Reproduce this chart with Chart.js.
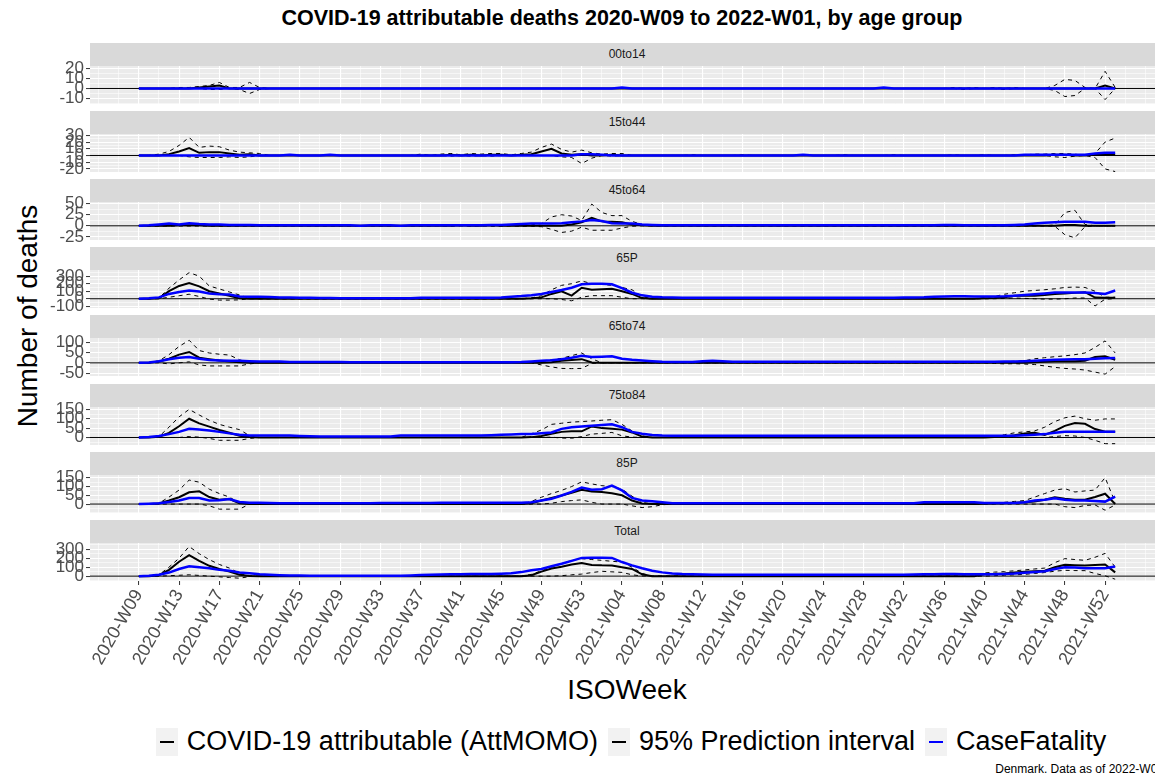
<!DOCTYPE html>
<html>
<head>
<meta charset="utf-8">
<title>COVID-19 attributable deaths by age group</title>
<script src="https://cdn.jsdelivr.net/npm/chart.js@4.4.1/dist/chart.umd.min.js"></script>
<style>
  html, body { margin: 0; padding: 0; background: #fff; }
  body { width: 1155px; height: 776px; overflow: hidden; position: relative;
         font-family: Arial, "Liberation Sans", Helvetica, sans-serif; }
  .abs { position: absolute; }
  #title { left: 90px; width: 1064px; top: 6px; text-align: center; font-size: 21.5px;
           font-weight: bold; color: #000; white-space: nowrap; }
  .strip { position: absolute; left: 90px; width: 1074px; background: #d9d9d9; color: #1a1a1a;
           font-size: 12px; text-align: center; }
  canvas.panel { position: absolute; left: 0; }
  #ylab { left: 28px; top: 316px; transform: translate(-50%, -50%) rotate(-90deg);
          font-size: 28px; white-space: nowrap; color: #000; }
  #xlab { left: 627px; top: 690px; transform: translate(-50%, -50%); font-size: 28px; color: #000; }
  #legend { left: 0; width: 1262px; top: 726px; display: flex; justify-content: center;
            align-items: center; font-size: 27px; white-space: nowrap; color: #000; }
  .item { display: flex; align-items: center; margin: 0 5px; }
  .key { width: 22px; height: 28px; background: #f2f2f2; position: relative; margin-right: 9px; }
  .key i { position: absolute; left: 4px; right: 4px; top: 13px; height: 2px; }
  #caption { right: -9px; top: 762px; font-size: 12px; color: #000; white-space: nowrap; }
</style>
</head>
<body>
<div id="title" class="abs">COVID-19 attributable deaths 2020-W09 to 2022-W01, by age group</div>
<div id="ylab" class="abs">Number of deaths</div>
<div id="xlab" class="abs">ISOWeek</div>
<div id="legend" class="abs">
  <span class="item"><span class="key"><i style="background:#000"></i></span>COVID-19 attributable (AttMOMO)</span>
  <span class="item"><span class="key"><i style="background:#000"></i></span>95% Prediction interval</span>
  <span class="item"><span class="key"><i style="background:#0000ff"></i></span>CaseFatality</span>
</div>
<div id="caption" class="abs">Denmark. Data as of 2022-W01</div>

<script>
// ---- Data ------------------------------------------------------------------
// ISO weeks 2020-W09 .. 2022-W01 (2020 has 53 weeks)
const weeks = [];
for (let w = 9; w <= 53; w++) weeks.push("2020-W" + String(w).padStart(2, "0"));
for (let w = 1; w <= 52; w++) weeks.push("2021-W" + String(w).padStart(2, "0"));
weeks.push("2022-W01");

const tickWeeks = [
  "2020-W09", "2020-W13", "2020-W17", "2020-W21", "2020-W25", "2020-W29", "2020-W33",
  "2020-W37", "2020-W41", "2020-W45", "2020-W49", "2020-W53", "2021-W04", "2021-W08",
  "2021-W12", "2021-W16", "2021-W20", "2021-W24", "2021-W28", "2021-W32", "2021-W36",
  "2021-W40", "2021-W44", "2021-W48", "2021-W52"
];

const groups = ["00to14", "15to44", "45to64", "65P", "65to74", "75to84", "85P", "Total"];

// y tick labels and panel ranges (free scales)
const yTicks = [
  [-10, 0, 10, 20],
  [-20, -10, 0, 10, 20, 30],
  [-25, 0, 25, 50],
  [-100, 0, 100, 200, 300],
  [-50, 0, 50, 100],
  [0, 50, 100, 150],
  [0, 50, 100, 150],
  [0, 100, 200, 300]
];
const yRange = [
  [-15.4, 22.3], [-24.6, 32], [-32, 53.7], [-123, 382],
  [-64, 121], [-40, 162.6], [-51, 166], [-54, 369]
];

// 00to14
const att00to14 = [
  0,0,0,0,0,0,1,2,3,0, 0,0,0,0,0,0,0,0,0,0, 0,0,0,0,0,0,0,0,0,0, 0,0,0,0,0,0,0,0,0,0,
  0,0,0,0,0,0,0,0,0,0, 0,0,0,0,0,0,0,0,0,0, 0,0,0,0,0,0,0,0,0,0, 0,0,0,0,0,0,0,0,0,0,
  0,0,0,0,0,0,0,0,0,0, 0,0,0,0,0,0,3,0];
const hi00to14 = [
  0,0,0,0,1,1,2,3,6,1, 1,6,1,0,0,0,0,0,0,0, 0,0,0,0,0,0,0,0,0,0, 0,0,0,0,0,0,0,0,0,0,
  0,0,0,0,0,0,0,0,0,0, 0,0,0,0,0,0,0,0,0,0, 0,0,0,0,0,0,0,0,0,0, 0,0,0,0,0,0,0,0,0,0,
  0,1,0,1,0,1,0,1,0,0, 0,3,9,8,1,0,17,1];
const lo00to14 = [
  0,0,0,0,0,0,0,-1,-1,0, -1,-5,-1,0,0,0,0,0,0,0, 0,0,0,0,0,0,0,0,0,0, 0,0,0,0,0,0,0,0,0,0,
  0,0,0,0,0,0,0,0,0,0, 0,0,0,0,0,0,0,0,0,0, 0,0,0,0,0,0,0,0,0,0, 0,0,0,0,0,0,0,0,0,0,
  0,0,-1,0,0,0,-1,0,0,0, 0,-2,-8,-7,0,0,-11,0];
const cf00to14 = [
  0,0,0,0,0,0,0,0,0,0, 0,0,0,0,0,0,0,0,0,0, 0,0,0,0,0,0,0,0,0,0, 0,0,0,0,0,0,0,0,0,0,
  0,0,0,0,0,0,0,0,1,0, 0,0,0,0,0,0,0,0,0,0, 0,0,0,0,0,0,0,0,0,0, 0,0,0,0,1,0,0,0,0,0,
  0,0,0,0,0,0,0,0,0,0, 0,0,0,0,0,0,0,0];

// 15to44
const att15to44 = [
  0,0,0,2,6,11,4,5,5,3, 1,2,0,0,0,0,0,0,0,0, 0,0,0,0,0,0,0,0,0,0, 0,1,0,1,0,1,1,0,1,2,
  6,10,3,1,2,0,0,1,0,0, 0,0,0,0,0,0,0,0,0,0, 0,0,0,0,0,0,0,0,0,0, 0,0,0,0,0,0,0,0,0,0,
  0,0,0,0,0,0,0,0,0,0, 0,1,1,0,0,1,1,1];
const hi15to44 = [
  0,0,2,6,15,27,12,14,13,8, 5,4,3,0,0,0,0,0,0,0, 0,0,0,0,0,0,0,0,2,0, 2,3,1,3,2,3,3,1,3,5,
  12,17,9,5,8,4,2,3,3,0, 0,0,0,0,0,1,0,0,0,0, 1,0,0,0,0,0,0,0,0,0, 1,0,0,0,0,1,0,0,0,0,
  0,1,0,0,1,0,0,1,1,2, 2,3,3,2,0,3,20,26];
const lo15to44 = [
  0,0,0,0,0,-2,-3,-3,-3,-2, -3,-2,0,0,0,0,0,0,0,0, 0,0,0,0,0,0,0,0,0,0, 0,-1,0,-1,0,-1,0,0,0,0,
  0,0,-2,-3,-12,-4,0,-1,0,0, 0,0,0,0,0,0,0,0,0,0, 0,0,0,0,0,0,0,0,0,0, 0,0,0,0,0,0,0,0,0,0,
  0,0,0,0,0,0,0,0,0,0, 0,-2,-3,-1,0,-3,-20,-24];
const cf15to44 = [
  0,0,0,0,0,0,0,0,0,0, 0,0,0,0,0,1,0,0,0,1, 0,0,0,0,0,0,0,0,0,0, 0,0,0,0,0,0,0,0,0,0,
  0,0,0,0,2,2,1,0,0,0, 0,0,0,0,0,0,0,0,0,0, 0,0,0,0,0,0,1,0,0,0, 0,0,0,0,0,0,0,0,0,0,
  0,0,0,0,0,0,0,0,1,1, 1,1,1,1,1,3,4,4];

// 45to64
const att45to64 = [
  0,0,0,0,1,1,1,0,0,0, 0,0,0,0,0,0,0,0,0,0, 0,0,0,0,0,0,0,0,0,0, 0,0,1,0,0,1,0,0,0,0,
  0,0,0,3,8,18,10,9,8,3, 1,0,0,0,0,0,0,0,0,0, 0,0,0,0,0,0,0,0,0,0, 0,0,0,0,0,0,0,0,0,0,
  0,0,0,0,0,0,0,0,0,0, 0,0,2,2,0,0,0,0];
const hi45to64 = [
  0,0,0,0,0,0,0,0,0,0, 0,0,0,0,0,0,0,0,0,0, 0,0,0,0,0,0,0,0,0,0, 1,2,1,2,1,2,2,1,2,2,
  5,20,25,22,12,49,30,23,23,10, 3,0,0,0,0,0,0,0,0,0, 0,0,0,0,0,0,0,0,0,0, 0,0,0,0,0,0,0,0,0,0,
  0,0,0,0,0,0,0,0,0,0, 0,2,30,35,3,0,0,0];
const lo45to64 = [
  0,0,0,0,0,0,0,0,0,0, 0,0,0,0,0,0,0,0,0,0, 0,0,0,0,0,0,0,0,0,0, 0,-1,0,-1,0,-1,-1,0,-1,-1,
  -2,-8,-15,-12,-3,-10,-10,-10,-5,-1, 0,0,0,0,0,0,0,0,0,0, 0,0,0,0,0,0,0,0,0,0, 0,0,0,0,0,0,0,0,0,0,
  0,0,0,0,0,0,0,0,0,0, 0,-1,-20,-27,-2,0,0,0];
const cf45to64 = [
  0,1,3,5,3,6,4,3,3,2, 2,2,1,1,1,1,1,1,1,1, 1,1,0,1,1,1,0,1,1,1, 1,1,1,1,1,2,2,3,4,5,
  5,5,6,8,10,13,11,6,5,5, 3,2,1,1,1,1,1,1,1,1, 1,1,1,1,1,1,1,1,1,1, 1,1,1,1,1,1,1,1,1,1,
  2,2,1,1,1,1,1,2,3,5, 7,8,9,9,9,7,7,8];

// 65P
const att65P = [
  0,0,5,100,170,210,165,100,70,40, 5,0,0,0,0,0,0,0,0,0, 0,0,0,0,0,0,0,0,0,0, 0,0,0,0,0,0,0,0,0,5,
  18,64,100,41,146,119,125,132,100,64, 9,0,0,0,0,0,0,0,0,0, 0,0,0,0,0,0,0,0,0,0, 0,0,0,0,0,0,0,0,0,0,
  0,0,0,0,5,10,20,41,41,41, 50,64,70,78,87,15,14,14];
const hi65P = [
  0,0,10,140,250,347,300,170,130,90, 50,5,0,0,0,0,0,0,0,0, 0,0,0,0,0,0,0,0,0,0, 0,0,0,0,0,0,0,0,0,10,
  40,119,178,200,237,200,190,178,150,119, 30,0,0,0,0,0,0,0,0,0, 0,0,0,0,0,0,0,0,0,0, 0,0,0,0,0,0,0,0,0,0,
  0,0,0,0,15,30,60,80,100,110, 120,132,150,155,150,100,20,20];
const lo65P = [
  0,0,0,20,40,60,30,-5,-18,-18, -15,0,0,0,0,0,0,0,0,0, 0,0,0,0,0,0,0,0,0,0, 0,0,0,0,0,0,0,0,0,0,
  0,0,-10,-27,20,41,41,41,20,0, 0,0,0,0,0,0,0,0,0,0, 0,0,0,0,0,0,0,0,0,0, 0,0,0,0,0,0,0,0,0,0,
  0,0,0,0,0,0,5,10,5,0, -5,-5,0,10,10,-96,-5,0];
const cf65P = [
  0,5,18,64,90,110,96,70,60,55, 30,27,25,22,18,16,14,12,10,10, 8,8,8,8,8,8,8,8,12,12, 12,12,12,12,12,14,16,25,35,48,
  64,90,115,146,192,200,200,192,140,80, 45,27,20,18,14,14,14,14,14,14, 14,14,14,14,14,14,14,14,14,14, 14,14,14,14,14,14,16,18,20,25,
  30,32,32,30,30,30,32,41,50,60, 70,82,82,82,82,75,64,110];

// 65to74
const att65to74 = [
  0,0,7,20,40,53,25,18,12,6, 3,0,0,0,0,0,0,0,0,0, 0,0,0,0,0,0,0,0,0,0, 0,0,0,0,0,0,0,0,0,0,
  0,3,10,14,18,2,0,0,0,0, 0,0,0,0,0,0,0,0,0,0, 0,0,0,0,0,0,0,0,0,0, 0,0,0,0,0,0,0,0,0,0,
  0,0,0,0,1,2,0,2,1,3, 5,8,8,8,10,28,32,15];
const hi65to74 = [
  0,0,10,40,80,110,60,48,42,38, 15,0,0,0,0,0,0,0,0,0, 0,0,0,0,0,0,0,0,0,0, 0,0,0,0,0,0,0,0,0,0,
  5,15,22,35,48,20,0,0,0,0, 0,0,0,0,0,0,0,0,0,0, 0,0,0,0,0,0,0,0,0,0, 0,0,0,0,0,0,0,0,0,0,
  0,0,0,0,4,6,5,8,10,20, 25,30,34,40,48,75,107,48];
const lo65to74 = [
  0,0,0,-5,0,5,-10,-15,-15,-15, -15,-5,0,0,0,0,0,0,0,0, 0,0,0,0,0,0,0,0,0,0, 0,0,0,0,0,0,0,0,0,0,
  -10,-20,-27,-28,-27,-3,0,0,0,0, 0,0,0,0,0,0,0,0,0,0, 0,0,0,0,0,0,0,0,0,0, 0,0,0,0,0,0,0,0,0,0,
  0,0,0,0,0,-3,-5,-4,-6,-8, -15,-22,-27,-30,-35,-45,-55,-18];
const cf65to74 = [
  0,2,8,18,25,28,20,14,12,10, 10,8,7,7,6,4,4,4,4,4, 4,3,3,3,3,3,3,3,3,3, 3,3,3,3,3,3,3,3,4,7,
  10,13,18,25,35,28,30,32,20,15, 12,8,5,4,4,4,8,10,8,5, 5,5,5,5,5,5,5,5,5,5, 5,5,5,5,5,5,5,5,5,5,
  5,5,5,5,5,5,6,7,8,10, 13,15,16,17,18,20,22,24];

// 75to84
const att75to84 = [
  0,0,4,25,60,100,75,58,40,25, 9,3,0,0,0,0,0,0,0,0, 0,0,0,0,0,0,0,0,0,0, 0,0,0,0,0,0,0,0,0,2,
  8,20,30,33,33,59,50,46,42,27, 5,0,0,0,0,0,0,0,0,0, 0,0,0,0,0,0,0,0,0,0, 0,0,0,0,0,0,0,0,0,0,
  0,0,0,0,0,2,5,12,22,25, 14,35,62,77,73,45,31,31];
const hi75to84 = [
  0,0,5,55,110,150,120,92,70,55, 42,10,0,0,0,0,0,0,0,0, 0,0,0,0,0,0,0,0,0,0, 0,0,0,0,0,0,0,0,0,20,
  40,70,76,82,85,88,92,95,70,35, 8,0,0,0,0,0,0,0,0,0, 0,0,0,0,0,0,0,0,0,0, 0,0,0,0,0,0,0,0,0,0,
  0,0,0,0,0,5,15,25,30,35, 55,85,105,114,100,92,99,99];
const lo75to84 = [
  0,0,0,0,0,5,2,-5,-15,-15, -15,-5,0,0,0,0,0,0,0,0, 0,0,0,0,0,0,0,0,0,0, 0,0,0,0,0,0,0,0,0,0,
  0,2,-3,-4,5,18,22,27,9,2, 0,0,0,0,0,0,0,0,0,0, 0,0,0,0,0,0,0,0,0,0, 0,0,0,0,0,0,0,0,0,0,
  0,0,0,0,0,0,0,0,0,0, 0,5,10,8,0,-15,-33,-33];
const cf75to84 = [
  0,3,8,18,30,46,42,37,30,22, 15,11,11,11,11,10,8,6,5,5, 5,5,5,5,5,5,10,10,10,10, 10,10,10,10,10,12,14,16,18,18,
  22,27,46,55,59,62,66,70,55,30, 20,13,10,9,9,9,9,9,9,9, 9,9,9,9,9,9,9,9,9,9, 9,9,9,9,9,9,9,9,9,9,
  9,9,9,9,9,9,9,9,12,15, 18,25,31,31,31,31,31,31];

// 85P
const att85P = [
  0,0,3,20,39,67,73,40,25,29, 5,0,0,0,0,0,0,0,0,0, 0,0,0,0,0,0,0,0,0,0, 0,0,0,0,0,0,0,0,0,5,
  20,35,49,65,82,72,69,62,50,20, 3,0,0,0,0,0,0,0,0,0, 0,0,0,0,0,0,0,0,0,0, 0,0,0,0,0,0,0,0,0,0,
  0,0,0,0,2,3,5,8,10,15, 25,39,30,24,25,40,59,0];
const hi85P = [
  0,0,5,40,80,137,125,85,60,40, 5,0,0,0,0,0,0,0,0,0, 0,0,0,0,0,0,0,0,0,0, 0,0,0,0,0,0,0,0,0,15,
  39,60,78,100,127,115,105,100,85,45, 10,0,0,0,0,0,0,0,0,0, 0,0,0,0,0,0,0,0,0,0, 0,0,0,0,0,0,0,0,0,0,
  0,0,0,0,5,8,10,15,20,40, 60,80,88,69,75,80,151,10];
const lo85P = [
  0,0,0,0,0,0,0,-10,-29,-29, -29,0,0,0,0,0,0,0,0,0, 0,0,0,0,0,0,0,0,0,0, 0,0,0,0,0,0,0,0,0,0,
  0,5,14,20,24,10,0,0,0,-10, -20,-15,-4,0,0,0,0,0,0,0, 0,0,0,0,0,0,0,0,0,0, 0,0,0,0,0,0,0,0,0,0,
  0,0,0,0,0,0,0,0,0,0, 0,0,-15,-20,-8,-5,-35,-5];
const cf85P = [
  0,2,5,12,20,35,35,20,22,29, 12,8,8,6,5,5,5,5,5,5, 5,5,5,5,6,6,6,6,6,6, 8,8,8,8,8,8,8,8,8,10,
  20,30,49,70,94,82,85,106,78,35, 20,16,10,5,5,5,5,5,5,5, 5,5,5,5,5,5,5,5,5,5, 5,5,5,5,5,5,5,5,10,10,
  10,10,10,10,6,6,6,6,10,20, 25,33,25,20,20,18,14,43];

// Total
const attTotal = [
  0,0,10,70,160,234,170,115,80,50, 15,3,0,0,0,0,0,0,0,0, 0,0,0,0,0,0,0,0,0,0, 0,0,0,0,0,0,0,0,0,10,
  50,85,105,130,146,125,120,118,100,80, 20,0,0,0,0,0,0,0,0,0, 0,0,0,0,0,0,0,0,0,0, 0,0,0,0,0,0,0,0,0,0,
  0,0,0,0,20,25,30,42,50,55, 61,100,126,122,119,125,130,42];
const hiTotal = [
  0,0,15,100,200,330,250,184,130,90, 30,5,0,0,0,0,0,0,0,0, 0,0,0,0,0,0,0,0,0,0, 0,0,0,0,0,0,0,0,0,20,
  60,100,140,175,195,185,176,165,157,100, 30,0,0,0,0,0,0,0,0,0, 0,0,0,0,0,0,0,0,0,0, 0,0,0,0,0,0,0,0,0,0,
  0,0,0,0,35,45,50,60,69,80, 90,150,195,185,176,210,253,100];
const loTotal = [
  0,0,0,5,10,15,8,0,-8,-15, -23,-5,0,0,0,0,0,0,0,0, 0,0,0,0,0,0,0,0,0,0, 0,0,0,0,0,0,0,0,0,0,
  0,0,5,15,23,40,54,48,42,15, 2,0,0,0,0,0,0,0,0,0, 0,0,0,0,0,0,0,0,0,0, 0,0,0,0,0,0,0,0,0,0,
  0,0,0,0,0,5,10,15,20,30, 40,55,65,62,61,30,4,-34];
const cfTotal = [
  0,5,15,40,80,111,100,88,70,61, 40,31,20,15,11,8,6,5,5,5, 5,5,5,5,5,5,5,8,12,15, 18,20,22,23,23,25,28,31,45,65,
  80,110,138,170,203,205,205,203,157,120, 88,60,42,30,23,20,18,15,15,15, 15,15,15,15,15,15,15,15,15,15, 15,15,15,15,15,15,15,18,20,22,
  23,23,22,22,22,22,25,30,38,45, 54,80,100,95,88,88,88,107];

const attSeries = [att00to14, att15to44, att45to64, att65P, att65to74, att75to84, att85P, attTotal];
const hiSeries  = [hi00to14, hi15to44, hi45to64, hi65P, hi65to74, hi75to84, hi85P, hiTotal];
const loSeries  = [lo00to14, lo15to44, lo45to64, lo65P, lo65to74, lo75to84, lo85P, loTotal];
const cfSeries  = [cf00to14, cf15to44, cf45to64, cf65P, cf65to74, cf75to84, cf85P, cfTotal];

// ---- Layout ----------------------------------------------------------------
const FONT = 'Arial, "Liberation Sans", Helvetica, sans-serif';
const PLOT_L = 90, PLOT_R = 1164, CANVAS_W = 1175;
const STRIP_TOP0 = 42.5, PERIOD = 68.2, STRIP_H = 23, PANEL_H = 38;
const PAD = 14, XAXIS_H = 100;
// ggplot-style 5% expansion of the week range
const nW = weeks.length;
const X_MIN = -0.05 * (nW - 1), X_MAX = (nW - 1) * 1.05;

Chart.defaults.font.family = FONT;

const tickIdx = tickWeeks.map(w => weeks.indexOf(w));
const xGrid = [];
for (let v = -4; v <= X_MAX; v += 2) xGrid.push(v);
const isXMajor = v => tickIdx.includes(v);

const toPoints = vals => vals.map((v, i) => ({ x: i, y: v }));

const panelBg = {
  id: "panelBg",
  beforeDraw(chart) {
    const { ctx, chartArea: a } = chart;
    ctx.save();
    ctx.fillStyle = "#ebebeb";
    ctx.fillRect(a.left, a.top, a.right - a.left, a.bottom - a.top);
    ctx.restore();
  },
  beforeDatasetsDraw(chart) {
    // horizontal reference line at 0
    const { ctx, chartArea: a, scales } = chart;
    const y0 = scales.y.getPixelForValue(0);
    ctx.save();
    ctx.strokeStyle = "#000";
    ctx.lineWidth = 1;
    ctx.beginPath();
    ctx.moveTo(a.left, y0);
    ctx.lineTo(a.right, y0);
    ctx.stroke();
    ctx.restore();
  }
};

function buildPanel(k) {
  const last = k === groups.length - 1;
  const stripTop = Math.round(STRIP_TOP0 + PERIOD * k);
  const panelTop = stripTop + STRIP_H;

  const strip = document.createElement("div");
  strip.className = "strip";
  strip.style.top = stripTop + "px";
  strip.style.height = STRIP_H + "px";
  strip.style.lineHeight = STRIP_H + "px";
  strip.textContent = groups[k];
  document.body.appendChild(strip);

  const padBottom = last ? 0 : PAD;
  const axisH = last ? XAXIS_H : 0;
  const cv = document.createElement("canvas");
  cv.className = "panel";
  cv.width = CANVAS_W;
  cv.height = PAD + PANEL_H + padBottom + axisH;
  cv.style.top = (panelTop - PAD) + "px";
  document.body.appendChild(cv);

  const majors = yTicks[k];
  const half = (majors[1] - majors[0]) / 2;
  const [yMin, yMax] = yRange[k];
  const yGrid = [];
  for (let v = majors[0] - 4 * half; v <= yMax; v += half) if (v >= yMin) yGrid.push(v);

  const line = (vals, color, width, dash, order) => ({
    data: toPoints(vals),
    borderColor: color,
    borderWidth: width,
    borderDash: dash,
    pointRadius: 0,
    tension: 0,
    fill: false,
    order
  });

  new Chart(cv, {
    type: "line",
    data: {
      datasets: [
        line(cfSeries[k], "#0000ff", 2.5, [], 0),
        line(attSeries[k], "#000000", 2, [], 1),
        line(hiSeries[k], "#000000", 1, [4, 4], 2),
        line(loSeries[k], "#000000", 1, [4, 4], 2)
      ]
    },
    options: {
      responsive: false,
      animation: false,
      events: [],
      devicePixelRatio: 1,
      layout: { padding: { top: PAD, bottom: padBottom, left: 0, right: CANVAS_W - PLOT_R } },
      plugins: { legend: { display: false }, tooltip: { enabled: false }, title: { display: false } },
      scales: {
        x: {
          type: "linear",
          min: X_MIN,
          max: X_MAX,
          afterBuildTicks: s => { s.ticks = xGrid.map(v => ({ value: v })); },
          afterFit: s => { s.height = axisH; s.paddingLeft = 0; s.paddingRight = 0; },
          border: { display: false },
          grid: {
            color: "#ffffff",
            lineWidth: c => (isXMajor(c.tick.value) ? 1.1 : 0.55),
            drawTicks: last,
            tickLength: 4,
            tickWidth: 1,
            tickColor: c => (isXMajor(c.tick.value) ? "#333333" : "rgba(0,0,0,0)")
          },
          ticks: {
            display: last,
            autoSkip: false,
            maxRotation: 60,
            minRotation: 60,
            padding: 1,
            color: "#4d4d4d",
            font: { size: 18, family: FONT },
            callback: v => (isXMajor(v) ? weeks[v] : "")
          }
        },
        y: {
          min: yMin,
          max: yMax,
          afterBuildTicks: s => { s.ticks = yGrid.map(v => ({ value: v })); },
          afterFit: s => { s.width = PLOT_L; s.paddingTop = 0; s.paddingBottom = 0; },
          border: { display: false },
          grid: {
            color: "#ffffff",
            lineWidth: c => (majors.includes(c.tick.value) ? 1.1 : 0.55),
            tickLength: 4,
            tickWidth: 1,
            tickColor: c => (majors.includes(c.tick.value) ? "#333333" : "rgba(0,0,0,0)")
          },
          ticks: {
            autoSkip: false,
            padding: 2,
            color: "#4d4d4d",
            font: { size: 17, family: FONT },
            callback: v => (majors.includes(v) ? String(v) : "")
          }
        }
      }
    },
    plugins: [panelBg]
  });
}

groups.forEach((g, k) => buildPanel(k));
</script>
</body>
</html>
